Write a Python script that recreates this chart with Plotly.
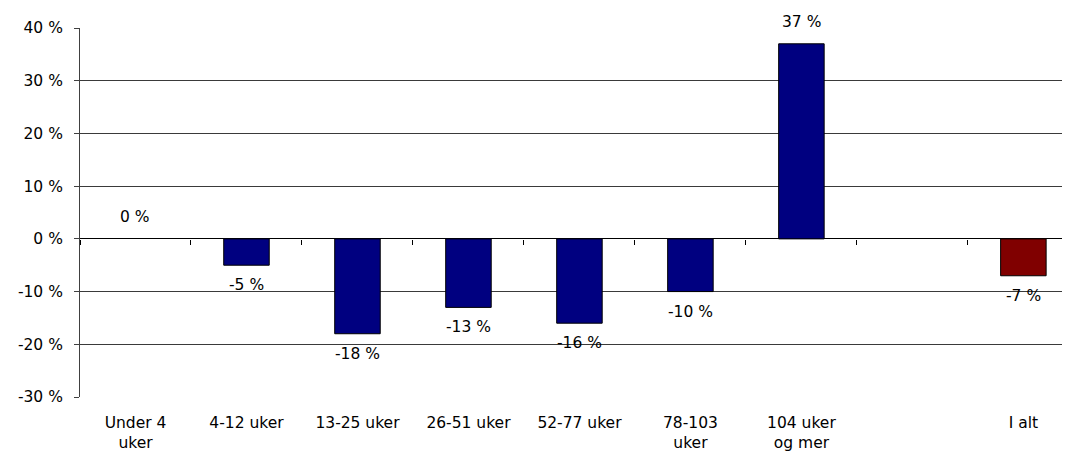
import plotly.graph_objects as go

categories = ["Under 4<br>uker", "4-12 uker", "13-25 uker", "26-51 uker", "52-77 uker",
              "78-103<br>uker", "104 uker<br>og mer", " ", "I alt"]
values = [0, -5, -18, -13, -16, -10, 37, None, -7]
bar_colors = ["#000080"] * 8 + ["#800000"]
y_ticks = [-30, -20, -10, 0, 10, 20, 30, 40]

FONT = dict(family="DejaVu Sans, Liberation Sans, Arial, sans-serif", size=15.5, color="#000000")
x_range = [-0.5, 8.42]

fig = go.Figure()
fig.add_trace(go.Bar(
    x=categories, y=values,
    marker=dict(color=bar_colors,
                line=dict(color="#000000",
                          width=[0 if v in (0, None) else 1 for v in values])),
    showlegend=False, hoverinfo="skip",
))
# helper trace so the zero-line tick axis exists
fig.add_trace(go.Bar(x=categories, y=[None] * len(categories), xaxis="x2",
                     showlegend=False, hoverinfo="skip"))

for c, v in zip(categories, values):
    if v is None:
        continue
    fig.add_annotation(x=c, y=v, text=f"{v} %", showarrow=False,
                       yshift=22 if v >= 0 else -20, font=FONT,
                       xanchor="center", yanchor="middle")

# page body has an 8px default margin; compensate in size and margins
fig.update_layout(
    width=1062, height=448,
    margin=dict(l=72, r=0, t=20, b=59),
    paper_bgcolor="white", plot_bgcolor="white",
    font=FONT,
    bargap=0.59,
    xaxis=dict(type="category", categoryorder="array", categoryarray=categories,
               range=x_range, showgrid=False, showline=False, ticks="",
               zeroline=False, tickfont=FONT, ticklabelstandoff=14),
    xaxis2=dict(type="category", categoryorder="array", categoryarray=categories,
                overlaying="x", anchor="free", position=30 / 70, range=x_range,
                tickson="boundaries", ticks="outside", ticklen=5, tickcolor="#000000",
                showticklabels=False, showgrid=False, showline=False, zeroline=False),
    yaxis=dict(range=[-30, 40], tickvals=y_ticks, ticktext=[f"{t} %" for t in y_ticks],
               showgrid=True, gridcolor="#3a3a3a", gridwidth=1,
               zeroline=True, zerolinecolor="#000000", zerolinewidth=1,
               showline=True, linecolor="#404040", linewidth=1,
               ticks="outside", ticklen=5, tickcolor="#404040",
               ticklabelstandoff=8, tickfont=FONT),
)

fig.write_html("out.html")
